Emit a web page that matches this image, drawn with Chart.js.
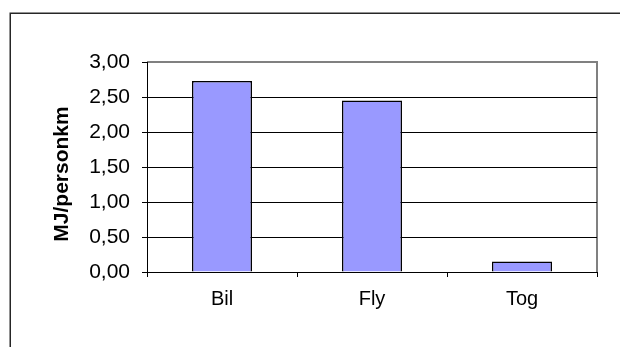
<!DOCTYPE html>
<html>
<head>
<meta charset="utf-8">
<script src="https://cdn.jsdelivr.net/npm/chart.js@4/dist/chart.umd.min.js"></script>
<style>
  html, body { margin: 0; padding: 0; background: #fff; overflow: hidden; }
  #wrap { position: relative; width: 620px; height: 347px; overflow: hidden; }
  #c { display: block; }
</style>
</head>
<body>
<div id="wrap"><canvas id="c" width="620" height="347"></canvas></div>
<script>
// Energy use per person-kilometre by mode of transport
const categories = ['Bil', 'Fly', 'Tog'];
const energyMJ = [2.73, 2.45, 0.15];
const yTicks = [0, 0.5, 1, 1.5, 2, 2.5, 3];
const yTitle = 'MJ/personkm';

const FONT = "'Liberation Sans', Arial, sans-serif";

// Frame around the chart, grey plot border, rotated axis title
const decorations = {
  id: 'decorations',
  beforeDraw(chart) {
    const ctx = chart.ctx;
    ctx.save();
    ctx.fillStyle = '#fff';
    ctx.fillRect(0, 0, chart.width, chart.height);
    // outer frame: left and top edges (the rest runs past the canvas)
    ctx.strokeStyle = '#262626';
    ctx.lineWidth = 1.5;
    ctx.beginPath();
    ctx.moveTo(10.25, chart.height + 5);
    ctx.lineTo(10.25, 13.25);
    ctx.lineTo(chart.width + 5, 13.25);
    ctx.stroke();
    // grey plot-area border on top and right
    const a = chart.chartArea;
    ctx.strokeStyle = '#808080';
    ctx.lineWidth = 2;
    ctx.beginPath();
    ctx.moveTo(a.left, Math.round(a.top));
    ctx.lineTo(Math.round(a.right), Math.round(a.top));
    ctx.lineTo(Math.round(a.right), a.bottom);
    ctx.stroke();
    ctx.restore();
  },
  afterDraw(chart) {
    const ctx = chart.ctx;
    ctx.save();
    ctx.translate(68, 174);
    ctx.rotate(-Math.PI / 2);
    ctx.font = 'bold 21px ' + FONT;
    ctx.fillStyle = '#000';
    ctx.textAlign = 'center';
    ctx.textBaseline = 'alphabetic';
    ctx.fillText(yTitle, 0, 0);
    ctx.restore();
  }
};

new Chart(document.getElementById('c'), {
  type: 'bar',
  data: {
    labels: categories,
    datasets: [{
      data: energyMJ,
      backgroundColor: '#9999FF',
      borderColor: '#000',
      borderWidth: 1.5,
      barPercentage: 0.4,
      categoryPercentage: 1.0
    }]
  },
  options: {
    responsive: false,
    animation: false,
    devicePixelRatio: 1,
    layout: { padding: { top: 62, right: 23, left: 0, bottom: 0 } },
    plugins: { legend: { display: false }, tooltip: { enabled: false } },
    scales: {
      x: {
        afterFit(scale) { scale.height = 75; },
        grid: {
          drawOnChartArea: false,
          drawTicks: true,
          tickLength: 5,
          color: '#000',
          offset: true
        },
        border: { display: true, color: '#000', width: 1 },
        ticks: {
          color: '#000',
          padding: 10,
          font: { family: FONT, size: 20 }
        }
      },
      y: {
        min: 0,
        max: 3,
        afterFit(scale) { scale.width = 147; },
        afterBuildTicks(scale) { scale.ticks = yTicks.map(v => ({ value: v })); },
        grid: {
          color: ctx => (ctx.tick && ctx.tick.value === 3) ? 'rgba(0,0,0,0)' : '#000',
          tickColor: '#000',
          tickLength: 5,
          lineWidth: 1
        },
        border: { display: true, color: '#000', width: 1 },
        ticks: {
          color: '#000',
          padding: 12,
          font: { family: FONT, size: 21 },
          callback: v => v.toFixed(2).replace('.', ',')
        }
      }
    }
  },
  plugins: [decorations]
});
</script>
</body>
</html>
